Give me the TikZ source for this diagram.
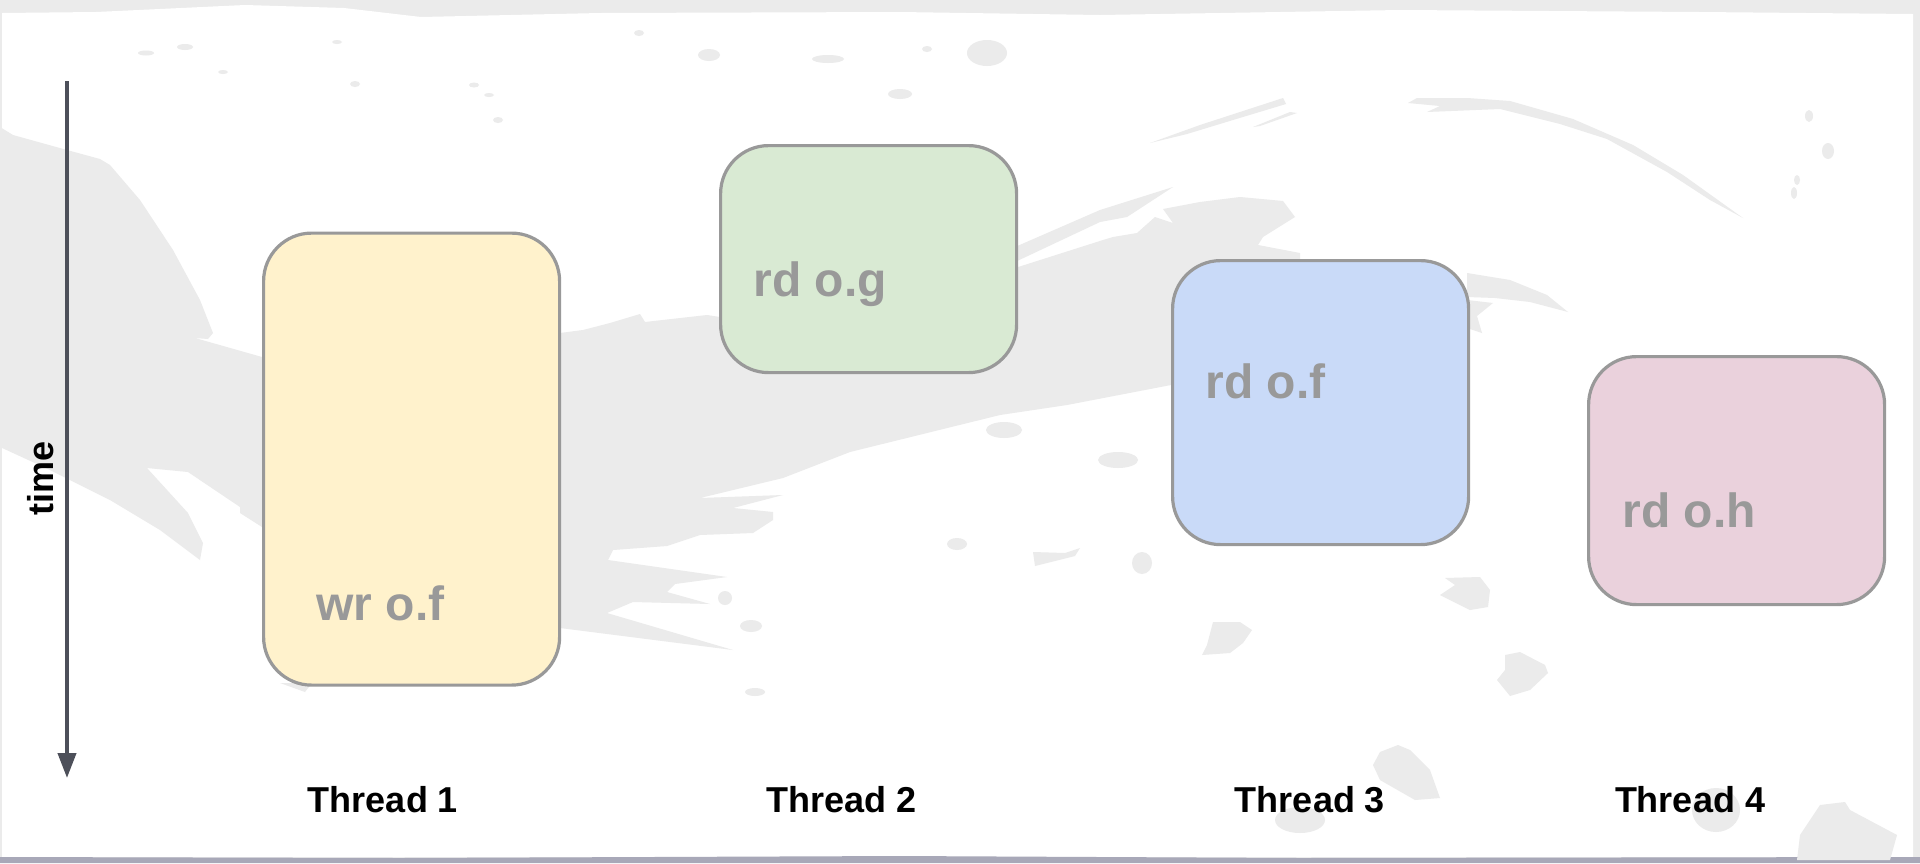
\documentclass[tikz,border=0pt]{standalone}
\usepackage{fontspec}
\setmainfont{Liberation Sans}
\usetikzlibrary{arrows.meta}
\definecolor{smudgegray}{HTML}{EBEBEB}
\definecolor{rimgray}{HTML}{A8A8B8}
\definecolor{boxline}{HTML}{999999}
\definecolor{axisgray}{HTML}{4D505A}
\definecolor{fillyellow}{HTML}{FFF2CC}
\definecolor{fillgreen}{HTML}{D9EAD3}
\definecolor{fillblue}{HTML}{C9DAF8}
\definecolor{fillpink}{HTML}{EAD1DC}
\begin{document}
\begin{tikzpicture}[x=0.5pt,y=-0.5pt,
  smudge/.style={fill=smudgegray},
  opbox/.style={draw=boxline, line width=1.6pt, rounded corners=24pt, anchor=north west,
    minimum width=148pt, inner sep=0pt},
  optext/.style={text=boxline, font=\bfseries\fontsize{24}{24}\selectfont, anchor=base west, inner sep=0pt},
  thread/.style={text=black, font=\bfseries\fontsize{18}{18}\selectfont, anchor=base, inner sep=0pt},
  timeaxis/.style={draw=axisgray, line width=2pt, -{Triangle[length=12.5pt,width=9pt]}}]
\useasboundingbox (0,0) rectangle (1920,863);
% paper and rim
\fill[smudge] (0,0) rectangle (1920,863);
\fill[white] (2,13) -- (96,12) -- (245,5) -- (344,8) -- (421,17) -- (600,13) -- (900,12) -- (1100,15)
  -- (1400,10) -- (1700,12) -- (1913,14) -- (1913,857) -- (2,857) -- cycle;
\fill[rimgray] (0,857) -- (400,858) -- (900,856) -- (1300,858) -- (1920,857) -- (1920,863) -- (0,863) -- cycle;
% main swoosh
\fill[smudge] (0,127) -- (13,135) -- (67,150) -- (100,159) -- (110,165) -- (140,200) -- (173,250)
  -- (200,300) -- (213,333) -- (208,339) -- (195,338) -- (262,357) -- (560,333) -- (583,330)
  -- (610,323) -- (640,314) -- (645,322) -- (707,315) -- (720,317) -- (1015,268) -- (1103,240)
  -- (1113,237) -- (1137,233) -- (1155,217) -- (1173,223) -- (1163,209) -- (1200,202) -- (1240,197)
  -- (1283,201) -- (1295,217) -- (1263,237) -- (1258,245) -- (1300,253) -- (1300,265) -- (1171,385)
  -- (1067,405) -- (1000,415) -- (850,452) -- (783,478) -- (700,498) -- (783,495) -- (733,508)
  -- (773,512) -- (773,520) -- (753,533) -- (700,535) -- (667,546) -- (613,550) -- (608,560)
  -- (727,577) -- (675,584) -- (667,592) -- (710,604) -- (633,602) -- (607,613) -- (733,650)
  -- (560,628) -- (262,527) -- (240,513) -- (240,507) -- (188,472) -- (147,468) -- (188,513)
  -- (203,543) -- (200,560) -- (160,530) -- (110,500) -- (50,470) -- (0,447) -- cycle;
\fill[smudge] (1015,247) -- (1100,210) -- (1173,187) -- (1127,217) -- (1100,222) -- (1015,262) -- cycle;
\fill[smudge] (1150,143) -- (1200,125) -- (1283,98) -- (1286,104) -- (1233,120) -- (1187,134) -- cycle;
\fill[smudge] (1253,127) -- (1290,112) -- (1297,113) -- (1260,126) -- cycle;
\fill[smudge] (1408,103) -- (1417,98) -- (1467,98) -- (1510,101) -- (1573,119) -- (1633,145) -- (1683,175)
  -- (1743,218) -- (1710,200) -- (1667,172) -- (1607,139) -- (1560,124) -- (1500,109) -- (1427,112)
  -- (1440,106) -- cycle;
\fill[smudge] (1467,273) -- (1510,280) -- (1547,295) -- (1568,312) -- (1530,302) -- (1495,298) -- (1467,297) -- cycle;
\fill[smudge] (1467,300) -- (1493,303) -- (1477,316) -- (1482,333) -- (1467,328) -- cycle;
\fill[smudge] (280,683) -- (312,683) -- (305,692) -- cycle;
% specks and blobs
\fill[smudge] (1033,552) -- (1065,553) -- (1080,548) -- (1075,556) -- (1035,566) -- cycle;
\fill[smudge] (1142,563) ellipse [x radius=10, y radius=11];
\fill[smudge] (1213,622) -- (1240,622) -- (1252,630) -- (1243,643) -- (1230,653) -- (1202,655) -- (1207,645) -- cycle;
\fill[smudge] (1445,578) -- (1480,577) -- (1490,590) -- (1488,607) -- (1470,610) -- (1440,595) -- (1455,585) -- cycle;
\fill[smudge] (1380,752) -- (1398,745) -- (1410,750) -- (1430,770) -- (1440,798) -- (1415,800) -- (1380,780) -- (1373,765) -- cycle;
\fill[smudge] (1300,820) ellipse [x radius=25, y radius=13];
\fill[smudge] (1505,655) -- (1520,652) -- (1545,665) -- (1548,673) -- (1530,690) -- (1510,696) -- (1497,680) -- (1505,670) -- cycle;
\fill[smudge] (1820,805) -- (1845,802) -- (1850,810) -- (1897,835) -- (1890,860) -- (1797,860) -- (1800,835) -- cycle;
\fill[smudge] (1716,810) ellipse [x radius=24, y radius=22];
\fill[smudge] (1004,430) ellipse [x radius=18, y radius=8];
\fill[smudge] (1118,460) ellipse [x radius=20, y radius=8];
\fill[smudge] (725,598) ellipse [x radius=7, y radius=7];
\fill[smudge] (751,626) ellipse [x radius=11, y radius=6];
\fill[smudge] (957,544) ellipse [x radius=10, y radius=6];
\fill[smudge] (755,692) ellipse [x radius=10, y radius=4];
\fill[smudge] (185,47) ellipse [x radius=8, y radius=3];
\fill[smudge] (146,53) ellipse [x radius=8, y radius=2.5];
\fill[smudge] (223,72) ellipse [x radius=5, y radius=2];
\fill[smudge] (355,84) ellipse [x radius=5, y radius=3];
\fill[smudge] (337,42) ellipse [x radius=5, y radius=2];
\fill[smudge] (474,85) ellipse [x radius=5, y radius=2.5];
\fill[smudge] (489,95) ellipse [x radius=5, y radius=2];
\fill[smudge] (498,120) ellipse [x radius=5, y radius=3];
\fill[smudge] (709,55) ellipse [x radius=11, y radius=6];
\fill[smudge] (828,59) ellipse [x radius=16, y radius=4];
\fill[smudge] (639,33) ellipse [x radius=5, y radius=3];
\fill[smudge] (987,53) ellipse [x radius=20, y radius=13];
\fill[smudge] (900,94) ellipse [x radius=12, y radius=5];
\fill[smudge] (927,49) ellipse [x radius=5, y radius=3];
\fill[smudge] (1809,116) ellipse [x radius=4, y radius=6];
\fill[smudge] (1828,151) ellipse [x radius=6, y radius=8];
\fill[smudge] (1797,180) ellipse [x radius=3, y radius=5];
\fill[smudge] (1794,193) ellipse [x radius=3, y radius=6];
% boxes
\node[opbox, fill=fillyellow, minimum height=226pt] (b1) at (262,231.5) {};
\node[opbox, fill=fillgreen, minimum height=113.5pt] (b2) at (719,144) {};
\node[opbox, fill=fillblue, minimum height=142pt] (b3) at (1171,259) {};
\node[opbox, fill=fillpink, minimum height=124pt] (b4) at (1587,355) {};
\node[optext] (l1) at (316,620) {wr o.f};
\node[optext] (l2) at (753,296) {rd o.g};
\node[optext] (l3) at (1205,398) {rd o.f};
\node[optext] (l4) at (1622,527) {rd o.h};
% thread labels
\node[thread] (th1) at (383,812) {Thread 1};
\node[thread] (th2) at (841.5,812) {Thread 2};
\node[thread] (th3) at (1310,812) {Thread 3};
\node[thread] (th4) at (1690,812) {Thread 4};
% time axis
\coordinate (tstart) at (67,81);
\coordinate (tend) at (67,778);
\draw[timeaxis] (tstart) -- (tend);
\node[thread, rotate=90] (timelabel) at (53,478) {time};
\end{tikzpicture}
\end{document}
